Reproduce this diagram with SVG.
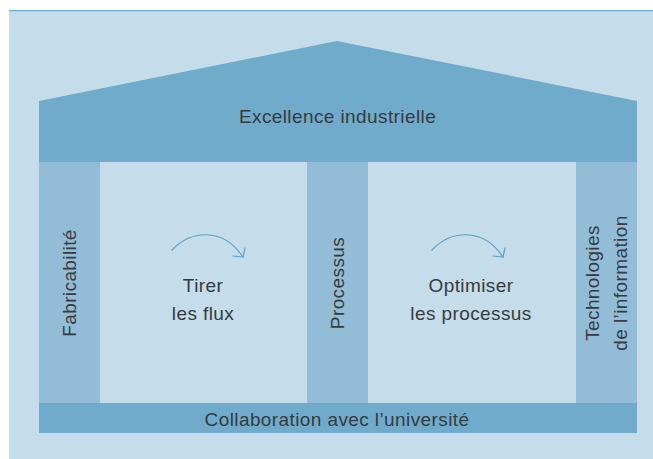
<svg xmlns="http://www.w3.org/2000/svg" width="653" height="459" viewBox="0 0 653 459">
  <style>
    .bg { fill: #c5dcea; }
    .band { fill: #71abcb; }
    .pillar { fill: #93bcd6; }
    .lbl { font-family: "Liberation Sans", Arial, sans-serif; font-size: 19px; letter-spacing: 0.4px; fill: #363b40; text-anchor: middle; }
    .flow { fill: none; stroke: #5d9fc6; stroke-width: 1.2; stroke-linecap: round; stroke-linejoin: round; }
  </style>
  <rect width="653" height="459" fill="#ffffff"/>
  <rect class="bg" x="9" y="10" width="644" height="449"/>
  <rect x="9" y="10" width="644" height="1.2" fill="#6aaad0"/>

  <g id="roof">
    <polygon class="band" points="39,101 337,41 637,101 637,162 39,162"/>
    <text class="lbl" x="337.5" y="122.5">Excellence industrielle</text>
  </g>

  <g id="pillar-fabricabilite">
    <rect class="pillar" x="39" y="162" width="61" height="241"/>
    <text class="lbl" transform="translate(76,283) rotate(-90)">Fabricabilité</text>
  </g>

  <g id="pillar-processus">
    <rect class="pillar" x="307" y="162" width="61" height="241"/>
    <text class="lbl" transform="translate(344,283) rotate(-90)">Processus</text>
  </g>

  <g id="pillar-technologies">
    <rect class="pillar" x="576" y="162" width="61" height="241"/>
    <text class="lbl" transform="translate(599,283) rotate(-90)">Technologies</text>
    <text class="lbl" transform="translate(627,283) rotate(-90)">de l’information</text>
  </g>

  <g id="tirer-les-flux">
    <text class="lbl" x="203" y="292">Tirer</text>
    <text class="lbl" x="203" y="320">les flux</text>
  </g>

  <g id="optimiser-les-processus">
    <text class="lbl" x="471" y="292">Optimiser</text>
    <text class="lbl" x="471" y="320">les processus</text>
  </g>

  <g id="foundation">
    <rect class="band" x="39" y="403" width="598" height="30"/>
    <text class="lbl" x="337" y="426">Collaboration avec l’université</text>
  </g>

  <g id="connectors">
    <path class="flow" d="M172,250 C190,231 222,226 243,257"/>
    <polyline class="flow" points="233,256 243,257 245,248"/>
    <path class="flow" d="M432,250 C450,231 482,226 503,257"/>
    <polyline class="flow" points="493,256 503,257 505,248"/>
  </g>
</svg>
